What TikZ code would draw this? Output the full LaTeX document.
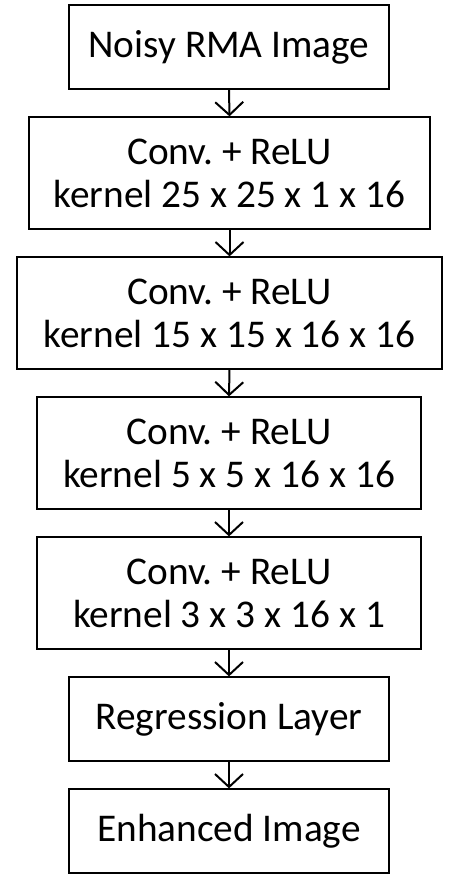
\documentclass[tikz,border=0pt]{standalone}
\usepackage{fontspec}
\setmainfont{Carlito}
\usetikzlibrary{arrows.meta}
\frenchspacing
\begin{document}
\begin{tikzpicture}[x=1pt,y=-1pt,
  blk/.style={draw=black,line width=1.3pt,rectangle,align=center,inner sep=0pt,
    font=\fontsize{39.3}{43}\selectfont},
  conn/.style={line width=2pt,-{Straight Barb[length=13pt,width=28pt,line width=2pt]}}]
\useasboundingbox (0,0) rectangle (460,879);
\node[blk,minimum width=320pt,minimum height=84pt] (b1) at (229,47) {Noisy RMA Image};
\node[blk,minimum width=401pt,minimum height=112pt] (b2) at (229.5,173) {Conv. + ReLU\\kernel 25 x 25 x 1 x 16};
\node[blk,minimum width=425pt,minimum height=112pt] (b3) at (229.5,313) {Conv. + ReLU\\kernel 15 x 15 x 16 x 16};
\node[blk,minimum width=384pt,minimum height=112pt] (b4) at (229,453) {Conv. + ReLU\\kernel 5 x 5 x 16 x 16};
\node[blk,minimum width=384pt,minimum height=112pt] (b5) at (229,593) {Conv. + ReLU\\kernel 3 x 3 x 16 x 1};
\node[blk,minimum width=320pt,minimum height=84pt] (b6) at (229,719) {Regression Layer};
\node[blk,minimum width=320pt,minimum height=84pt] (b7) at (229,831) {Enhanced Image};
\draw[conn] (b1.south) -- (b2.north);
\draw[conn] (b2.south) -- (b3.north);
\draw[conn] (b3.south) -- (b4.north);
\draw[conn] (b4.south) -- (b5.north);
\draw[conn] (b5.south) -- (b6.north);
\draw[conn] (b6.south) -- (b7.north);
\end{tikzpicture}
\end{document}
